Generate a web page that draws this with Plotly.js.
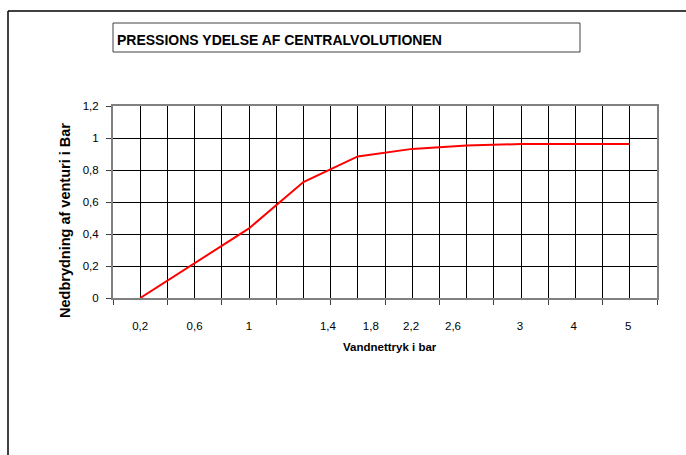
<!DOCTYPE html>
<html>
<head>
<meta charset="utf-8">
<script src="https://cdn.plot.ly/plotly-3.0.1.min.js"></script>
<style>html,body{margin:0;padding:0;background:#fff;}#chart{width:686px;height:455px;}</style>
</head>
<body>
<div id="chart"></div>
<script>
// Data
var tickLabels = ["0,2", "0,6", "1", "1,4", "1,8", "2,2", "2,6", "3", "4", "5"];
var pressureDrop = [0, 0.22, 0.435, 0.725, 0.885, 0.932, 0.953, 0.962, 0.962, 0.962];

var idx = pressureDrop.map(function (_, i) { return i; });
var nCat = pressureDrop.length;

// layout helpers (plot area: x 113..657, y 106..298 px)
var L = 113, R = 657, T = 106, B = 298, W = 686, H = 455;
function px(x) { return (x - L) / (R - L); }
function py(y) { return (B - y) / (B - T); }

var boundaries = [];
for (var b = 0; b <= nCat; b++) boundaries.push(b - 0.5);
// label placement along the category axis, as in the reference
var labelPos = [0, 1, 2, 3.45, 4.24, 4.98, 5.75, 6.98, 7.97, 8.97];

var trace = {
  x: idx,
  y: pressureDrop,
  type: 'scatter',
  mode: 'lines',
  line: { color: '#ff0000', width: 2 },
  hoverinfo: 'skip',
  showlegend: false
};

var labelTrace = { x: [0], y: [null], xaxis: 'x2', yaxis: 'y', type: 'scatter', mode: 'lines', showlegend: false, hoverinfo: 'skip' };

var layout = {
  width: W, height: H,
  margin: { l: L, r: W - R, t: T, b: H - B, pad: 0 },
  paper_bgcolor: '#ffffff',
  plot_bgcolor: '#ffffff',
  separators: ',.',
  font: { family: 'Liberation Sans, Arial, sans-serif', size: 11, color: '#000' },
  showlegend: false,
  title: {
    text: '<b>PRESSIONS YDELSE AF CENTRALVOLUTIONEN</b>',
    font: { family: 'Liberation Sans, Arial, sans-serif', size: 14, color: '#000' },
    xref: 'paper', x: px(117), xanchor: 'left',
    yref: 'container', y: 1 - 40 / H, yanchor: 'middle'
  },
  xaxis: {
    type: 'linear',
    range: [-0.5, nCat - 0.5],
    tickmode: 'array',
    tickvals: boundaries,
    showticklabels: false,
    ticks: 'outside', ticklen: 5, tickwidth: 1, tickcolor: '#404040',
    showgrid: true, gridcolor: '#000000', gridwidth: 1,
    minor: { tick0: 0, dtick: 1, showgrid: true, gridcolor: '#000000', gridwidth: 1, ticks: '' },
    zeroline: false,
    showline: true, linecolor: '#808080', linewidth: 2, mirror: true,
    fixedrange: true
  },
  xaxis2: {
    type: 'linear',
    overlaying: 'x', anchor: 'y', side: 'bottom',
    range: [-0.5, nCat - 0.5],
    tickmode: 'array',
    tickvals: labelPos,
    ticktext: tickLabels,
    ticks: 'outside', ticklen: 17, tickcolor: 'rgba(0,0,0,0)',
    tickfont: { size: 11.5, color: '#000' },
    showgrid: false, zeroline: false, showline: false,
    fixedrange: true
  },
  yaxis: {
    range: [0, 1.2],
    tick0: 0, dtick: 0.2,
    ticks: 'outside', ticklen: 5, tickwidth: 1, tickcolor: '#404040',
    ticklabelstandoff: 5,
    tickfont: { size: 11.5, color: '#000' },
    showgrid: true, gridcolor: '#000000', gridwidth: 1,
    zeroline: false,
    showline: true, linecolor: '#808080', linewidth: 2, mirror: true,
    fixedrange: true
  },
  annotations: [
    {
      text: '<b>Nedbrydning af venturi i Bar</b>',
      xref: 'paper', yref: 'paper', x: px(65), y: py(221),
      xanchor: 'center', yanchor: 'middle', textangle: -90, showarrow: false,
      font: { family: 'Liberation Sans, Arial, sans-serif', size: 14.5, color: '#000' }
    },
    {
      text: '<b>Vandnettryk i bar</b>',
      xref: 'paper', yref: 'paper', x: px(390), y: py(347),
      xanchor: 'center', yanchor: 'middle', showarrow: false,
      font: { family: 'Liberation Sans, Arial, sans-serif', size: 11.5, color: '#000' }
    }
  ],
  shapes: [
    { type: 'rect', xref: 'paper', yref: 'paper', x0: px(113), x1: px(580), y0: py(52), y1: py(23),
      line: { color: '#404040', width: 1 }, fillcolor: 'rgba(0,0,0,0)', layer: 'below' },
    { type: 'line', xref: 'paper', yref: 'paper', x0: px(8), x1: px(700), y0: py(11), y1: py(11),
      line: { color: '#000000', width: 1.5 } },
    { type: 'line', xref: 'paper', yref: 'paper', x0: px(8), x1: px(8), y0: py(11), y1: py(470),
      line: { color: '#000000', width: 1.5 } }
  ]
};

Plotly.newPlot('chart', [trace, labelTrace], layout, { staticPlot: true, displayModeBar: false });
</script>
</body>
</html>
